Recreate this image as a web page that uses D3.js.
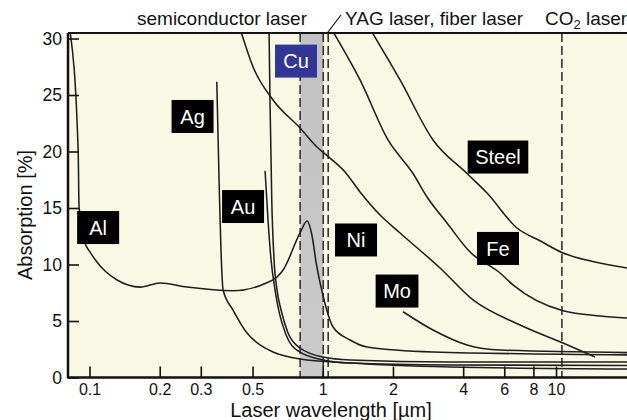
<!DOCTYPE html>
<html>
<head>
<meta charset="utf-8">
<script src="https://cdn.jsdelivr.net/npm/d3@7"></script>
<style>
  html, body { margin: 0; padding: 0; background: #ffffff; }
  svg { display: block; font-family: "Liberation Sans", Arial, Helvetica, sans-serif; }
</style>
</head>
<body>
<svg id="chart" width="627" height="420"></svg>
<script>
// Absorption of metals vs. laser wavelength (wavelength in µm, absorption in %)
const alWave    = [0.0826, 0.0894, 0.0902, 0.0957, 0.1006, 0.1078, 0.1166, 0.1313, 0.1463, 0.1647, 0.2007, 0.262, 0.4125, 0.566, 0.637, 0.676, 0.799, 0.857, 0.900, 0.936, 0.990, 1.040, 1.107, 1.309, 1.549, 2.97, 20.2];
const alAbs     = [30.6, 20.1, 15.1, 11.9, 11.1, 10.2, 9.42, 8.63, 8.19, 8.0, 8.36, 8.0, 7.68, 8.32, 8.89, 9.51, 12.79, 13.85, 12.52, 10.22, 7.74, 5.97, 4.47, 3.32, 2.70, 2.26, 2.0];

const agWave    = [0.3513, 0.3593, 0.369, 0.3738, 0.4125, 0.4736, 0.5384, 0.612, 0.7993, 1.309, 3.513, 20.2];
const agAbs     = [26.18, 17.48, 9.51, 7.74, 5.97, 3.94, 2.88, 2.26, 1.64, 1.28, 0.93, 0.75];

const cuWave    = [0.5886, 0.594, 0.6045, 0.6183, 0.6369, 0.6627, 0.7099, 0.7993, 1.003, 1.309, 3.513, 20.2];
const cuAbs     = [30.6, 24.56, 15.71, 10.4, 7.74, 5.97, 3.94, 2.61, 1.81, 1.55, 1.37, 1.37];

const auWave    = [0.5659, 0.5826, 0.6004, 0.6246, 0.6497, 0.6964, 0.7837, 1.003, 1.309, 3.513, 20.2];
const auAbs     = [18.27, 13.94, 10.4, 7.74, 5.8, 3.76, 2.35, 1.55, 1.28, 1.11, 1.06];

const niWave    = [0.4465, 0.5026, 0.612, 0.7993, 0.9548, 1.075, 1.246, 1.445, 1.761, 2.145, 3.183, 4.409, 7.012, 10.72, 14.7];
const niAbs     = [30.6, 27.48, 24.56, 22.08, 20.31, 19.42, 18.19, 16.42, 14.38, 12.79, 9.69, 6.86, 4.65, 3.05, 1.81];

const moWave    = [2.209, 2.97, 4.154, 5.754, 20.2];
const moAbs     = [5.82, 4.2, 2.88, 2.43, 2.2];

const feWave    = [1.107, 1.445, 1.905, 2.438, 2.8, 3.41, 4.283, 5.754, 6.54, 10.72, 15.44, 20.2];
const feAbs     = [30.6, 26.33, 21.02, 18.05, 15.97, 13.67, 11.1, 9.25, 8.2, 5.9, 5.44, 5.27];

const steelWave = [1.622, 2.145, 2.97, 4.154, 5.061, 6.805, 8.54, 10.72, 14.7, 20.2];
const steelAbs  = [30.6, 26.33, 21.02, 18.05, 16.33, 13.23, 12.1, 11.02, 10.22, 9.69];

// Metal name tags, anchored at (wavelength, absorption)
const tagNames  = ["Al", "Ag", "Au", "Cu", "Ni", "Mo", "Fe", "Steel"];
const tagWave   = [0.1089, 0.2766, 0.4554, 0.768, 1.389, 2.082, 5.64, 5.64];
const tagAbs    = [13.27, 23.1, 15.13, 28.0, 12.17, 7.65, 11.42, 19.51];

// Laser sources
const diodeBand = [0.8, 1.005];   // semiconductor laser range
const yagLines  = [1.005, 1.055]; // YAG / fiber laser
const co2Line   = 10.6;           // CO2 laser

// Axis ticks
const xTicks      = [0.1, 0.2, 0.3, 0.5, 1, 2, 4, 6, 8, 10];
const xTickLabels = ["0.1", "0.2", "0.3", "0.5", "1", "2", "4", "6", "8", "10"];
const yTicks      = [0, 5, 10, 15, 20, 25, 30];

const svg = d3.select("#chart");
const pLeft = 68, pRight = 627, pTop = 33, pBottom = 377.5;

const x = d3.scaleLog().domain([0.1, 10]).range([89.5, 556]);
const y = d3.scaleLinear().domain([0, 30]).range([377.5, 38.5]);

const defs = svg.append("defs");

// plot background
svg.append("rect")
  .attr("x", pLeft).attr("y", pTop)
  .attr("width", pRight - pLeft).attr("height", pBottom - pTop)
  .attr("fill", "#f8f8e4");

defs.append("clipPath").attr("id", "plotClip")
  .append("rect")
  .attr("x", pLeft).attr("y", pTop)
  .attr("width", pRight - pLeft).attr("height", pBottom - pTop);

const plot = svg.append("g").attr("clip-path", "url(#plotClip)");

// semiconductor laser band
const grad = defs.append("linearGradient")
  .attr("id", "bandGrad").attr("x1", 0).attr("y1", 0).attr("x2", 0).attr("y2", 1);
grad.append("stop").attr("offset", "0%").attr("stop-color", "#c2c2c2");
grad.append("stop").attr("offset", "100%").attr("stop-color", "#cacaca");

plot.append("rect")
  .attr("x", x(diodeBand[0])).attr("y", pTop)
  .attr("width", x(diodeBand[1]) - x(diodeBand[0]))
  .attr("height", pBottom - pTop)
  .attr("fill", "url(#bandGrad)");

// dashed source markers
const dashedAt = [diodeBand[0], yagLines[0], yagLines[1], co2Line];
plot.selectAll("line.src").data(dashedAt).join("line")
  .attr("class", "src")
  .attr("x1", d => x(d)).attr("x2", d => x(d))
  .attr("y1", pTop).attr("y2", pBottom)
  .attr("stroke", "#333")
  .attr("stroke-width", 1.6)
  .attr("stroke-dasharray", "9,4");

// curves
const series = [
  [alWave, alAbs], [agWave, agAbs], [cuWave, cuAbs], [auWave, auAbs],
  [niWave, niAbs], [moWave, moAbs], [feWave, feAbs], [steelWave, steelAbs]
];
const line = d3.line()
  .x(d => x(d[0]))
  .y(d => y(d[1]))
  .curve(d3.curveMonotoneX);

plot.selectAll("path.curve")
  .data(series.map(([w, a]) => w.map((v, i) => [v, a[i]])))
  .join("path")
  .attr("class", "curve")
  .attr("d", line)
  .attr("fill", "none")
  .attr("stroke", "#1e1e1e")
  .attr("stroke-width", 1.55);

// metal name tags
const tags = svg.append("g");
tagNames.forEach((name, i) => {
  const g = tags.append("g")
    .attr("transform", `translate(${x(tagWave[i])},${y(tagAbs[i])})`);
  const rect = g.append("rect");
  const t = g.append("text")
    .attr("text-anchor", "middle")
    .attr("dy", "0.36em")
    .attr("fill", "#ffffff")
    .attr("font-size", 20)
    .text(name);
  const w = Math.max(42, t.node().getComputedTextLength() + 15);
  rect.attr("x", -w / 2).attr("y", -16.5)
    .attr("width", w).attr("height", 33)
    .attr("fill", name === "Cu" ? "#323795" : "#000000");
});

// axes
const yAxis = d3.axisLeft(y).tickValues(yTicks).tickSize(-11).tickPadding(6);
const gy = svg.append("g").attr("transform", `translate(${pLeft},0)`).call(yAxis);
gy.select(".domain").remove();
gy.selectAll(".tick line").attr("stroke", "#111").attr("stroke-width", 1.6);
gy.selectAll(".tick text")
  .attr("font-size", 17.5).attr("fill", "#111")
  .attr("font-family", "Liberation Sans, Arial, sans-serif");

const xAxis = d3.axisBottom(x).tickValues(xTicks)
  .tickFormat((d, i) => xTickLabels[i]).tickSize(-11).tickPadding(6);
const gx = svg.append("g").attr("transform", `translate(0,${pBottom})`).call(xAxis);
gx.select(".domain").remove();
gx.selectAll(".tick line").attr("stroke", "#111").attr("stroke-width", 1.6);
gx.selectAll(".tick text")
  .attr("font-size", 16).attr("fill", "#111")
  .attr("font-family", "Liberation Sans, Arial, sans-serif");

// frame: left and bottom axis lines, top border
svg.append("line").attr("x1", pLeft).attr("x2", pLeft).attr("y1", pTop).attr("y2", pBottom + 1)
  .attr("stroke", "#111").attr("stroke-width", 2.5);
svg.append("line").attr("x1", pLeft).attr("x2", pRight).attr("y1", pBottom).attr("y2", pBottom)
  .attr("stroke", "#111").attr("stroke-width", 2.5);
svg.append("line").attr("x1", pLeft).attr("x2", pRight).attr("y1", pTop).attr("y2", pTop)
  .attr("stroke", "#111").attr("stroke-width", 2);

// axis titles
svg.append("text")
  .attr("transform", "translate(25,215) rotate(-90)")
  .attr("text-anchor", "middle")
  .attr("dy", "0.35em")
  .attr("font-size", 20).attr("fill", "#111")
  .text("Absorption [%]");

svg.append("text")
  .attr("x", 331).attr("y", 417)
  .attr("text-anchor", "middle")
  .attr("font-size", 20).attr("fill", "#111")
  .text("Laser wavelength [µm]");

// laser source captions
svg.append("text")
  .attr("x", 137).attr("y", 25)
  .attr("font-size", 19).attr("fill", "#111")
  .text("semiconductor laser");

svg.append("line")
  .attr("x1", x(yagLines[0]) + 4).attr("y1", pTop)
  .attr("x2", 341).attr("y2", 15)
  .attr("stroke", "#111").attr("stroke-width", 1.2);

svg.append("text")
  .attr("x", 345).attr("y", 25)
  .attr("font-size", 19).attr("fill", "#111")
  .text("YAG laser, fiber laser");

const co2 = svg.append("text")
  .attr("x", 545).attr("y", 25)
  .attr("font-size", 19).attr("fill", "#111");
co2.append("tspan").text("CO");
co2.append("tspan").attr("font-size", 13).attr("dy", 4).text("2");
co2.append("tspan").attr("dy", -4).text(" laser");
</script>
</body>
</html>
